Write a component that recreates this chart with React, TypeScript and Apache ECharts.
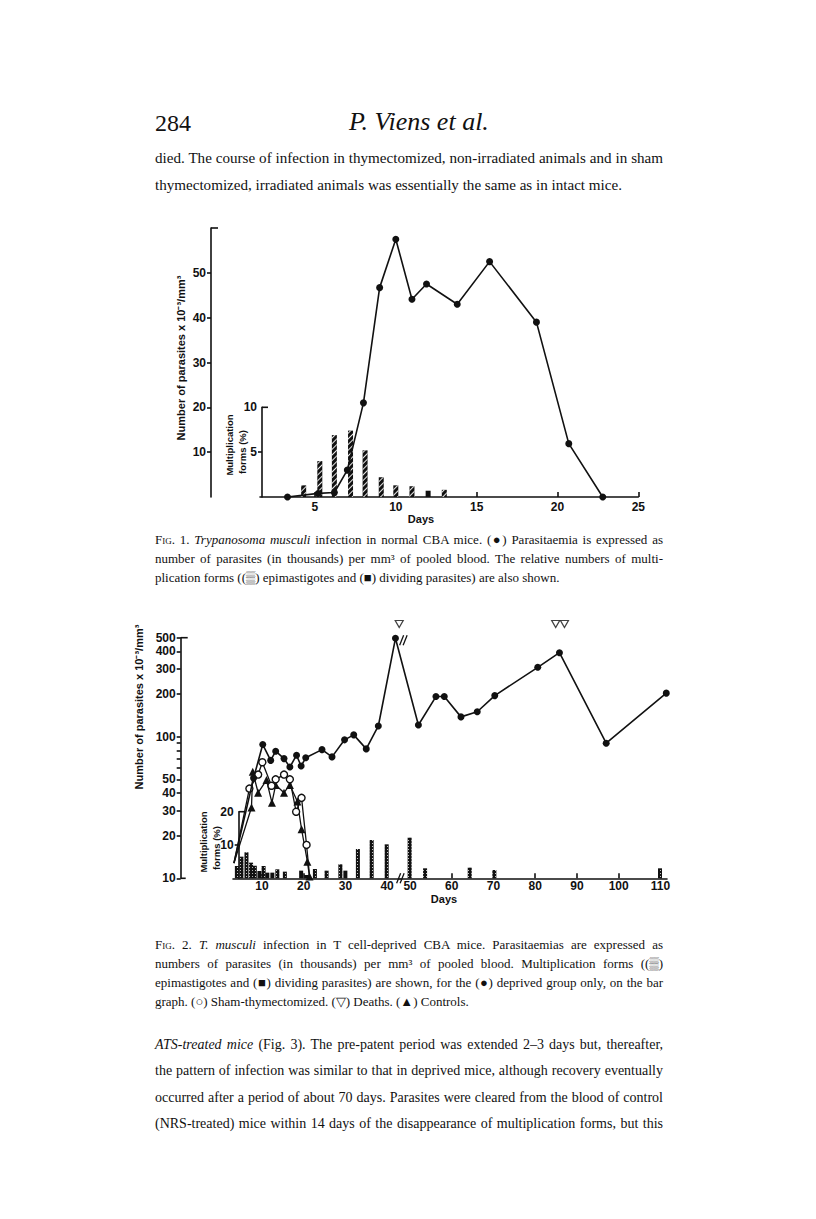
import React, { useEffect, useRef } from 'react';
import * as echarts from 'echarts';

// ---------------- Fig. 1 data ----------------
const fig1XTicks = [5, 10, 15, 20, 25];
const fig1YTicks = [10, 20, 30, 40, 50];
const fig1PctLabels = [5, 10];
const fig1PctTicks = [5];
const fig1Days = [3.3, 5.2, 6.2, 7.0, 8.0, 9.0, 10.0, 11.0, 11.9, 13.8, 15.8, 18.7, 20.7, 22.8];
const fig1Parasites = [0, 0.8, 1.0, 6.0, 21, 46.7, 57.5, 44.1, 47.5, 43.0, 52.5, 39.0, 11.9, 0];
const fig1BarDays = [4.3, 5.3, 6.2, 7.2, 8.1, 9.1, 10, 11, 12, 13];
const fig1BarPct = [1.3, 4.0, 6.9, 7.4, 5.2, 2.2, 1.3, 1.2, 0.7, 0.8];
const fig1BarKind = ['e', 'e', 'e', 'e', 'e', 'e', 'e', 'e', 'd', 'e'];

// ---------------- Fig. 2 data ----------------
const fig2XTicks = [10, 20, 30, 40, 50, 60, 70, 80, 90, 100, 110];
const fig2YTicks = [10, 20, 30, 40, 50, 60, 70, 80, 90, 100, 200, 300, 400, 500];
const fig2YLabels = [10, 20, 30, 40, 50, 100, 200, 300, 400, 500];
const fig2PctLabels = [10, 20];
const fig2PctTicks = [10];
const fig2DeprivedDays = [3.3, 8.0, 10.2, 12.1, 13.3, 15.3, 16.7, 18.3, 19.4, 20.5, 24.4, 26.8, 29.8, 32.0, 35.0, 37.9, 42.0, 52.0, 56.2, 58.2, 62.2, 66.1, 70.3, 80.6, 85.8, 97.0, 111.4];
const fig2DeprivedVals = [12.8, 51, 88, 68, 79, 70, 61, 74, 62, 71, 81, 72, 95, 103, 82, 119, 495, 121, 192, 192, 138, 150, 195, 309, 392, 90, 203];
const fig2ShamDays = [3.3, 7.0, 9.1, 10.1, 12.3, 13.3, 15.3, 16.7, 18.2, 19.5, 20.7, 21.4];
const fig2ShamVals = [12.8, 43, 54, 66, 45, 50, 54, 50, 29.5, 37, 17.2, 10.5];
const fig2CtrlDays = [3.3, 7.5, 7.8, 9.1, 11.1, 12.4, 13.3, 15.3, 16.7, 18.5, 19.5, 20.9, 21.4];
const fig2CtrlVals = [12.8, 31.6, 56.6, 40.2, 49.4, 34.2, 45.6, 40.2, 45.6, 34.8, 22.2, 13.1, 10.3];
const fig2DeathDays = [42.9, 84.9, 87.0];
const fig2DeathLevel = 625;
const fig2BarDays = [4.0, 5.1, 6.3, 7.4, 8.3, 9.4, 10.4, 11.3, 12.5, 13.7, 15.5, 19.4, 20.6, 22.7, 25.5, 28.8, 30.0, 33.0, 36.3, 39.9, 49.9, 53.6, 64.3, 70.2, 109.9];
const fig2BarPct = [3.7, 6.5, 7.8, 4.7, 3.8, 2.2, 3.7, 1.7, 1.7, 2.7, 2.0, 2.3, 1.0, 2.8, 2.3, 4.2, 2.3, 8.8, 11.5, 10.2, 12.2, 3.0, 3.2, 2.5, 3.0];
const fig2BarKind = ['e', 'e', 'e', 'e', 'e', 'd', 'e', 'd', 'd', 'e', 'e', 'd', 'd', 'e', 'e', 'e', 'd', 'e', 'e', 'e', 'e', 'e', 'e', 'e', 'e'];
const fig2Break = { start: 43, end: 47.5 };

// ---------------- layout ----------------
const INK = '#111';
const SANS = "'Liberation Sans', Arial, sans-serif";
const SERIF = "'Liberation Serif', 'Times New Roman', serif";
const lab = { fontFamily: SANS, fontWeight: 'bold' as const, fontSize: 12, color: INK };

const F1 = { left: 260, top: 228, width: 378.3, height: 269, xMin: 1.6, xMax: 25, yMax: 60, yOff: 49 };
const F1B = { top: 407.3, height: 89.7, pMax: 10, pOff: -2 };
const F2 = { left: 232.7, top: 637.7, width: 434, height: 240.6, xMin: 3, xMax: 111.5, yOff: 52 };
const F2B = { top: 811.7, height: 66.6, pMax: 20, pOff: -6 };

const hatch = {
  symbol: 'rect', symbolSize: 1, dashArrayX: [1, 0], dashArrayY: [0.8, 2.6],
  rotation: -Math.PI / 4, color: 'rgba(255,255,255,0.9)',
};
const dots = {
  symbol: 'rect', symbolSize: 1, dashArrayX: [1, 1.5], dashArrayY: [1, 1.5],
  color: 'rgba(255,255,255,0.75)',
};

const lineStyle = { color: INK, width: 1.6 };

function xAxisCfg(gridIndex: number, min: number, max: number, ticks: number[], show: boolean, extra: any = {}) {
  return {
    type: 'value', gridIndex, min, max, show,
    axisLine: { show: true, onZero: false, lineStyle },
    axisTick: { show: true, inside: true, length: 5, customValues: ticks, lineStyle },
    axisLabel: { show: true, customValues: ticks, margin: 4, ...lab },
    splitLine: { show: false },
    ...extra,
  };
}

function yAxisCfg(gridIndex: number, type: string, min: number, max: number, ticks: number[], labels: number[], offset: number) {
  return {
    type, gridIndex, min, max, offset,
    ...(type === 'log' ? { logBase: 10 } : {}),
    axisLine: { show: true, onZero: false, lineStyle },
    axisTick: { show: true, inside: false, length: 4, customValues: ticks, lineStyle },
    axisLabel: { show: true, customValues: labels, margin: 5, ...lab },
    splitLine: { show: false },
  };
}

function buildOption(): any {
  const brk = { breaks: [{ start: fig2Break.start, end: fig2Break.end, gap: 0 }], breakArea: { show: false } };
  return {
    animation: false,
    backgroundColor: 'transparent',
    grid: [
      { left: F1.left, top: F1.top, width: F1.width, height: F1.height, outerBoundsMode: 'none' },
      { left: F1.left, top: F1B.top, width: F1.width, height: F1B.height, outerBoundsMode: 'none' },
      { left: F2.left, top: F2.top, width: F2.width, height: F2.height, outerBoundsMode: 'none' },
      { left: F2.left, top: F2B.top, width: F2.width, height: F2B.height, outerBoundsMode: 'none' },
    ],
    xAxis: [
      xAxisCfg(0, F1.xMin, F1.xMax, fig1XTicks, true),
      xAxisCfg(1, F1.xMin, F1.xMax, fig1XTicks, false),
      xAxisCfg(2, F2.xMin, F2.xMax, fig2XTicks, true, { ...brk, axisLabel: { show: true, customValues: fig2XTicks, margin: 2, ...lab } }),
      xAxisCfg(3, F2.xMin, F2.xMax, fig2XTicks, false, brk),
    ],
    yAxis: [
      yAxisCfg(0, 'value', 0, F1.yMax, fig1YTicks, fig1YTicks, F1.yOff),
      yAxisCfg(1, 'value', 0, F1B.pMax, fig1PctTicks, fig1PctLabels, F1B.pOff),
      yAxisCfg(2, 'log', 10, 500, fig2YTicks, fig2YLabels, F2.yOff),
      yAxisCfg(3, 'value', 0, F2B.pMax, fig2PctTicks, fig2PctLabels, F2B.pOff),
    ],
    series: [
      {
        name: 'Multiplication forms (Fig. 1)', type: 'bar', xAxisIndex: 1, yAxisIndex: 1, barWidth: 5, z: 2,
        data: fig1BarDays.map((d, i) => ({
          value: [d, fig1BarPct[i]],
          itemStyle: fig1BarKind[i] === 'e' ? { color: INK, decal: hatch } : { color: INK },
        })),
      },
      {
        name: 'Parasitaemia (Fig. 1)', type: 'line', xAxisIndex: 0, yAxisIndex: 0, z: 4, clip: false,
        data: fig1Days.map((d, i) => [d, fig1Parasites[i]]),
        symbol: 'circle', symbolSize: 7, lineStyle, itemStyle: { color: INK },
      },
      {
        name: 'Multiplication forms (Fig. 2)', type: 'bar', xAxisIndex: 3, yAxisIndex: 3, barWidth: 4, z: 2,
        data: fig2BarDays.map((d, i) => ({
          value: [d, fig2BarPct[i]],
          itemStyle: fig2BarKind[i] === 'e' ? { color: INK, decal: dots } : { color: INK },
        })),
      },
      {
        name: 'Controls', type: 'line', xAxisIndex: 2, yAxisIndex: 2, z: 4, clip: false,
        data: fig2CtrlDays.map((d, i) => ({ value: [d, fig2CtrlVals[i]], symbol: i === 0 ? 'none' : 'triangle' })),
        symbolSize: 8, lineStyle: { color: INK, width: 1.3 }, itemStyle: { color: INK },
      },
      {
        name: 'Sham-thymectomized', type: 'line', xAxisIndex: 2, yAxisIndex: 2, z: 5, clip: false,
        data: fig2ShamDays.map((d, i) => ({ value: [d, fig2ShamVals[i]], symbol: i === 0 || i === fig2ShamDays.length - 1 ? 'none' : 'circle' })),
        symbolSize: 7, lineStyle: { color: INK, width: 1.3 },
        itemStyle: { color: '#fff', borderColor: INK, borderWidth: 1.4 },
      },
      {
        name: 'Deprived', type: 'line', xAxisIndex: 2, yAxisIndex: 2, z: 6, clip: false,
        data: fig2DeprivedDays.map((d, i) => ({ value: [d, fig2DeprivedVals[i]], symbol: i === 0 ? 'none' : 'circle' })),
        symbolSize: 7, lineStyle, itemStyle: { color: INK },
      },
      {
        name: 'Deaths', type: 'scatter', xAxisIndex: 2, yAxisIndex: 2, z: 6, clip: false,
        data: fig2DeathDays.map((d) => [d, fig2DeathLevel]),
        symbol: 'triangle', symbolRotate: 180, symbolSize: [8, 7],
        itemStyle: { color: '#fff', borderColor: INK, borderWidth: 1.2 },
      },
    ],
  };
}

function buildDecor(chart: any): any[] {
  const px = (g: number, x: number, y: number) => chart.convertToPixel({ gridIndex: g }, [x, y]) as number[];
  const ln = (x1: number, y1: number, x2: number, y2: number, w = 1.6) => ({
    type: 'line', silent: true, shape: { x1, y1, x2, y2 }, style: { stroke: INK, lineWidth: w },
  });
  const txt = (x: number, y: number, text: string, size: number, rot = 0) => ({
    type: 'text', silent: true, x, y, rotation: rot,
    style: { text, fontFamily: SANS, fontWeight: 'bold', fontSize: size, fill: INK, align: 'center', verticalAlign: 'middle' },
  });
  const out: any[] = [];
  // top caps of the vertical axes
  const a = px(0, F1.xMin, F1.yMax);
  out.push(ln(a[0] - F1.yOff, a[1], a[0] - F1.yOff + 7, a[1]));
  const b = px(1, F1.xMin, F1B.pMax);
  out.push(ln(b[0] - F1B.pOff, b[1], b[0] - F1B.pOff + 6, b[1]));
  const c = px(2, F2.xMin, 500);
  out.push(ln(c[0] - F2.yOff, c[1], c[0] - F2.yOff + 7, c[1]));
  const c0 = px(2, F2.xMin, 10);
  out.push(ln(c0[0] - F2.yOff, c0[1], c0[0] - F2.yOff + 5, c0[1]));
  const d = px(3, F2.xMin, F2B.pMax);
  out.push(ln(d[0] - F2B.pOff, d[1], d[0] - F2B.pOff + 6, d[1]));
  // break marks "//"
  const br = px(2, fig2Break.start, 10);
  out.push({ type: 'rect', silent: true, shape: { x: br[0] - 3, y: br[1] - 2, width: 7, height: 4 }, style: { fill: '#fff' } });
  [0, 3.5].forEach((dx) => out.push(ln(br[0] - 3 + dx, br[1] + 5, br[0] + 1 + dx, br[1] - 5, 1.3)));
  const bp = px(2, fig2Break.start, 480);
  [0, 3.5].forEach((dx) => out.push(ln(bp[0] + dx, bp[1] + 5, bp[0] + 4 + dx, bp[1] - 5, 1.3)));
  // axis titles
  out.push(txt(181, 358, 'Number of parasites x 10⁻³/mm³', 11, Math.PI / 2));
  out.push(txt(229, 445, 'Multiplication', 9.5, Math.PI / 2));
  out.push(txt(242, 452, 'forms (%)', 9.5, Math.PI / 2));
  out.push(txt(421, 519, 'Days', 11));
  out.push(txt(139, 707, 'Number of parasites x 10⁻³/mm³', 11, Math.PI / 2));
  out.push(txt(203, 842, 'Multiplication', 9.5, Math.PI / 2));
  out.push(txt(216.5, 848, 'forms (%)', 9.5, Math.PI / 2));
  out.push(txt(444, 899, 'Days', 11));
  return out;
}

const LEFT = 155;
const WIDTH = 508;

function Line(props: { y: number; size: number; justify?: boolean; children: React.ReactNode; lh?: number }) {
  const lh = props.lh ?? 20;
  return (
    <div
      style={{
        position: 'absolute', left: LEFT, width: WIDTH, top: props.y - lh / 2, height: lh,
        lineHeight: `${lh}px`, fontSize: props.size, fontFamily: SERIF, color: '#111',
        textAlign: props.justify ? 'justify' : 'left', textAlignLast: props.justify ? 'justify' : 'left',
      }}
    >
      {props.children}
    </div>
  );
}

const sc = { fontVariant: 'small-caps' as const };
const it = { fontStyle: 'italic' as const };

export default function App() {
  const ref = useRef<HTMLDivElement>(null);
  useEffect(() => {
    const chart = echarts.init(ref.current!, null, { renderer: 'svg' });
    chart.setOption(buildOption());
    try {
      chart.setOption({ graphic: buildDecor(chart) });
    } catch (e) {
      // ignore
    }
    return () => chart.dispose();
  }, []);

  const top = 15.1;
  const body = 14;
  const cap = 13;
  return (
    <div style={{ position: 'absolute', left: 0, top: 0, width: 816, height: 1219, background: '#fff', overflow: 'hidden' }}>
      <div ref={ref} style={{ position: 'absolute', left: 0, top: 0, width: 816, height: 1219 }} />
      <div style={{ position: 'absolute', left: LEFT, top: 108, fontSize: 24, fontFamily: SERIF, lineHeight: '30px', color: '#111' }}>284</div>
      <div style={{ position: 'absolute', left: 349, top: 107, fontSize: 26, fontFamily: SERIF, fontStyle: 'italic', lineHeight: '30px', color: '#111' }}>P. Viens et al.</div>

      <Line y={158} size={top} justify>died. The course of infection in thymectomized, non-irradiated animals and in sham</Line>
      <Line y={185} size={top}>thymectomized, irradiated animals was essentially the same as in intact mice.</Line>

      <Line y={540} size={cap} justify><span style={sc}>Fig. 1.</span> <span style={it}>Trypanosoma musculi</span> infection in normal CBA mice. (●) Parasitaemia is expressed as</Line>
      <Line y={559} size={cap} justify>number of parasites (in thousands) per mm³ of pooled blood. The relative numbers of multi-</Line>
      <Line y={578} size={cap}>plication forms ((▒) epimastigotes and (■) dividing parasites) are also shown.</Line>

      <Line y={945} size={cap} justify><span style={sc}>Fig. 2.</span> <span style={it}>T. musculi</span> infection in T cell-deprived CBA mice. Parasitaemias are expressed as</Line>
      <Line y={964} size={cap} justify>numbers of parasites (in thousands) per mm³ of pooled blood. Multiplication forms ((▒)</Line>
      <Line y={983} size={cap} justify>epimastigotes and (■) dividing parasites) are shown, for the (●) deprived group only, on the bar</Line>
      <Line y={1002} size={cap}>graph. (○) Sham-thymectomized. (▽) Deaths. (▲) Controls.</Line>

      <Line y={1045} size={body} justify><span style={it}>ATS-treated mice</span> (Fig. 3). The pre-patent period was extended 2–3 days but, thereafter,</Line>
      <Line y={1071} size={body} justify>the pattern of infection was similar to that in deprived mice, although recovery eventually</Line>
      <Line y={1098} size={body} justify>occurred after a period of about 70 days. Parasites were cleared from the blood of control</Line>
      <Line y={1124} size={body} justify>(NRS-treated) mice within 14 days of the disappearance of multiplication forms, but this</Line>
    </div>
  );
}
